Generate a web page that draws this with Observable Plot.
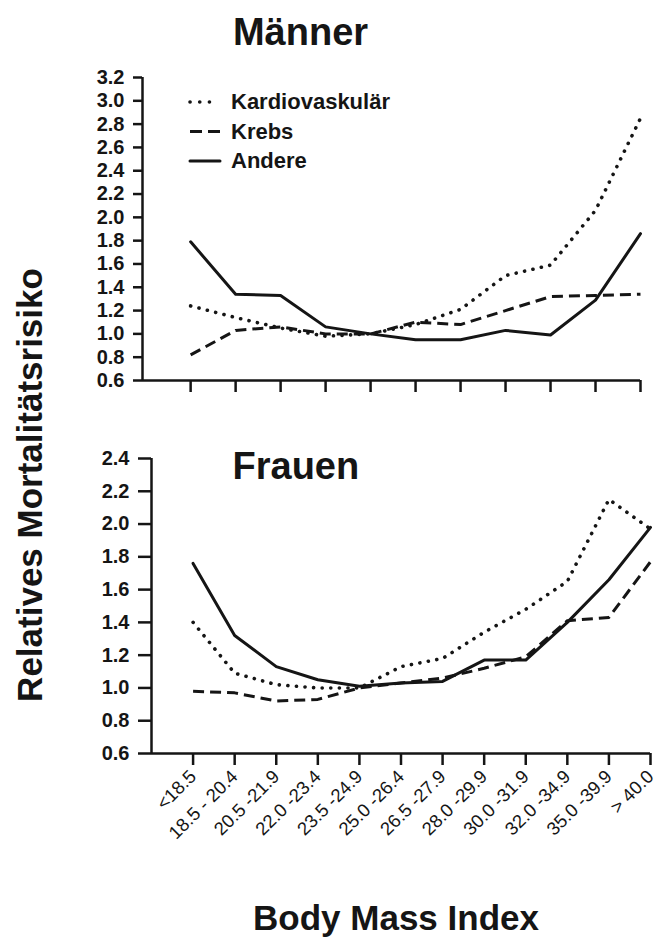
<!DOCTYPE html>
<html><head><meta charset="utf-8">
<script src="https://cdn.jsdelivr.net/npm/d3@7"></script>
<script src="https://cdn.jsdelivr.net/npm/@observablehq/plot@0.6"></script>
<style>
body{margin:0;background:#fff;}
#wrap{position:relative;width:662px;height:941px;font-family:"Liberation Sans",Arial,Helvetica,sans-serif;color:#111;overflow:hidden;}
#menPanel,#womenPanel,#overlay{position:absolute;left:0;}
#menPanel{top:0}
#womenPanel{top:420px}
#overlay{top:0}
</style></head>
<body><div id="wrap"><div id="menPanel"></div><div id="womenPanel"></div><div id="overlay"></div></div>
<script>
// ---------- data ----------
const categories = ["<18.5","18.5 - 20.4","20.5 -21.9","22.0 -23.4","23.5 -24.9","25.0 -26.4","26.5 -27.9","28.0 -29.9","30.0 -31.9","32.0 -34.9","35.0 -39.9","> 40.0"];
const seriesNames = ["Kardiovaskulär","Krebs","Andere"];

// Männer (upper panel has 11 positions, unlabeled)
const menPoints = [1,2,3,4,5,6,7,8,9,10,11];
const menKardio = [1.24,1.14,1.05,0.98,1.00,1.08,1.21,1.50,1.59,2.06,2.85];
const menKrebs  = [0.82,1.03,1.06,1.00,1.00,1.10,1.08,1.20,1.32,1.33,1.34];
const menAndere = [1.79,1.34,1.33,1.06,1.00,0.95,0.95,1.03,0.99,1.29,1.86];
const menYTicks = [0.6,0.8,1.0,1.2,1.4,1.6,1.8,2.0,2.2,2.4,2.6,2.8,3.0,3.2];

// Frauen (lower panel, 12 BMI categories)
const womenPoints = [1,2,3,4,5,6,7,8,9,10,11,12];
const womenKardio = [1.40,1.09,1.02,1.00,1.00,1.13,1.18,1.34,1.48,1.65,2.15,1.97];
const womenKrebs  = [0.98,0.97,0.92,0.93,1.00,1.03,1.06,1.12,1.19,1.41,1.43,1.77];
const womenAndere = [1.76,1.32,1.13,1.05,1.01,1.03,1.04,1.17,1.17,1.40,1.66,1.98];
const womenYTicks = [0.6,0.8,1.0,1.2,1.4,1.6,1.8,2.0,2.2,2.4];

// ---------- styles ----------
const FONT = '"Liberation Sans", Arial, Helvetica, sans-serif';
const INK = "#151515";
const lineStyle = {
  "Kardiovaskulär": {strokeDasharray: "0.1 8.5", strokeLinecap: "round", strokeWidth: 3.6},
  "Krebs": {strokeDasharray: "11 6", strokeLinecap: "butt", strokeWidth: 3},
  "Andere": {strokeLinecap: "round", strokeWidth: 3}
};

function tidy(points, values, s) { return points.map((x, i) => ({x, y: values[i], s})); }

function seriesMarks(points, sets) {
  return seriesNames.map((s, k) => Plot.line(tidy(points, sets[k], s), {
    x: "x", y: "y", stroke: INK, strokeLinejoin: "round", ...lineStyle[s]
  }));
}

// ---------- upper panel: Männer ----------
const menX0 = -0.07;
const menChart = Plot.plot({
  width: 662, height: 400,
  marginLeft: 142, marginRight: 22, marginTop: 77, marginBottom: 20,
  x: {domain: [menX0, 11]},
  y: {domain: [0.6, 3.2]},
  style: {fontFamily: FONT, color: INK, background: "transparent", overflow: "visible"},
  marks: [
    Plot.axisY({ticks: menYTicks, tickSize: 9, tickPadding: 9, strokeWidth: 2.5,
      fontSize: 20, fontWeight: "bold", tickFormat: d => d.toFixed(1), label: null}),
    Plot.axisX({ticks: menPoints, tickSize: 12, strokeWidth: 2.5, tickFormat: () => "", label: null}),
    Plot.ruleY([0.6], {stroke: INK, strokeWidth: 2.5}),
    Plot.ruleX([menX0], {stroke: INK, strokeWidth: 2.5}),
    ...seriesMarks(menPoints, [menKardio, menKrebs, menAndere]),
    Plot.text(["Männer"], {frameAnchor: "top", dx: -91, dy: -33, lineAnchor: "bottom",
      fontSize: 38, fontWeight: "bold", fill: INK})
  ]
});
document.getElementById("menPanel").appendChild(menChart);

// ---------- lower panel: Frauen ----------
const womenX0 = 0;
const womenChart = Plot.plot({
  width: 662, height: 443,
  marginLeft: 151, marginRight: 12, marginTop: 38, marginBottom: 110,
  x: {domain: [womenX0, 12]},
  y: {domain: [0.6, 2.4]},
  style: {fontFamily: FONT, color: INK, background: "transparent", overflow: "visible"},
  marks: [
    Plot.axisY({ticks: womenYTicks, tickSize: 13, tickPadding: 9, strokeWidth: 2.5,
      fontSize: 20, fontWeight: "bold", tickFormat: d => d.toFixed(1), label: null}),
    Plot.axisX({ticks: womenPoints, tickSize: 12, tickPadding: 8, strokeWidth: 2.5,
      tickRotate: -45, fontSize: 18.5, tickFormat: i => categories[i - 1], label: null}),
    Plot.ruleY([0.6], {stroke: INK, strokeWidth: 2.5}),
    Plot.ruleX([womenX0], {stroke: INK, strokeWidth: 2.5}),
    ...seriesMarks(womenPoints, [womenKardio, womenKrebs, womenAndere]),
    Plot.text(["Frauen"], {frameAnchor: "top-left", dx: 81, dy: 20, lineAnchor: "bottom",
      textAnchor: "start", fontSize: 38, fontWeight: "bold", fill: INK})
  ]
});
document.getElementById("womenPanel").appendChild(womenChart);

// ---------- overlay: legend and shared axis titles ----------
const ov = d3.select("#overlay").append("svg")
  .attr("width", 662).attr("height", 941)
  .style("font-family", FONT).style("overflow", "visible");

const leg = ov.append("g").attr("transform", "translate(190,102)");
seriesNames.forEach((s, k) => {
  const g = leg.append("g").attr("transform", `translate(0,${k * 29.5})`);
  const st = lineStyle[s];
  g.append("line").attr("x1", 0).attr("x2", s === "Kardiovaskulär" ? 29 : 30)
    .attr("y1", 0).attr("y2", 0)
    .attr("stroke", INK).attr("stroke-width", st.strokeWidth)
    .attr("stroke-linecap", st.strokeLinecap)
    .attr("stroke-dasharray", s === "Kardiovaskulär" ? "0.1 9.6" : (s === "Krebs" ? "12 6" : null));
  g.append("text").attr("x", 41).attr("y", 7).attr("font-size", 22).attr("font-weight", "bold")
    .attr("fill", INK).text(s);
});

ov.append("text").attr("x", 396).attr("y", 930).attr("text-anchor", "middle")
  .attr("font-size", 35).attr("font-weight", "bold").attr("fill", INK).text("Body Mass Index");

ov.append("text").attr("transform", "translate(42,485) rotate(-90)").attr("text-anchor", "middle")
  .attr("font-size", 35).attr("font-weight", "bold").attr("fill", INK).text("Relatives Mortalitätsrisiko");
</script>
</body></html>
